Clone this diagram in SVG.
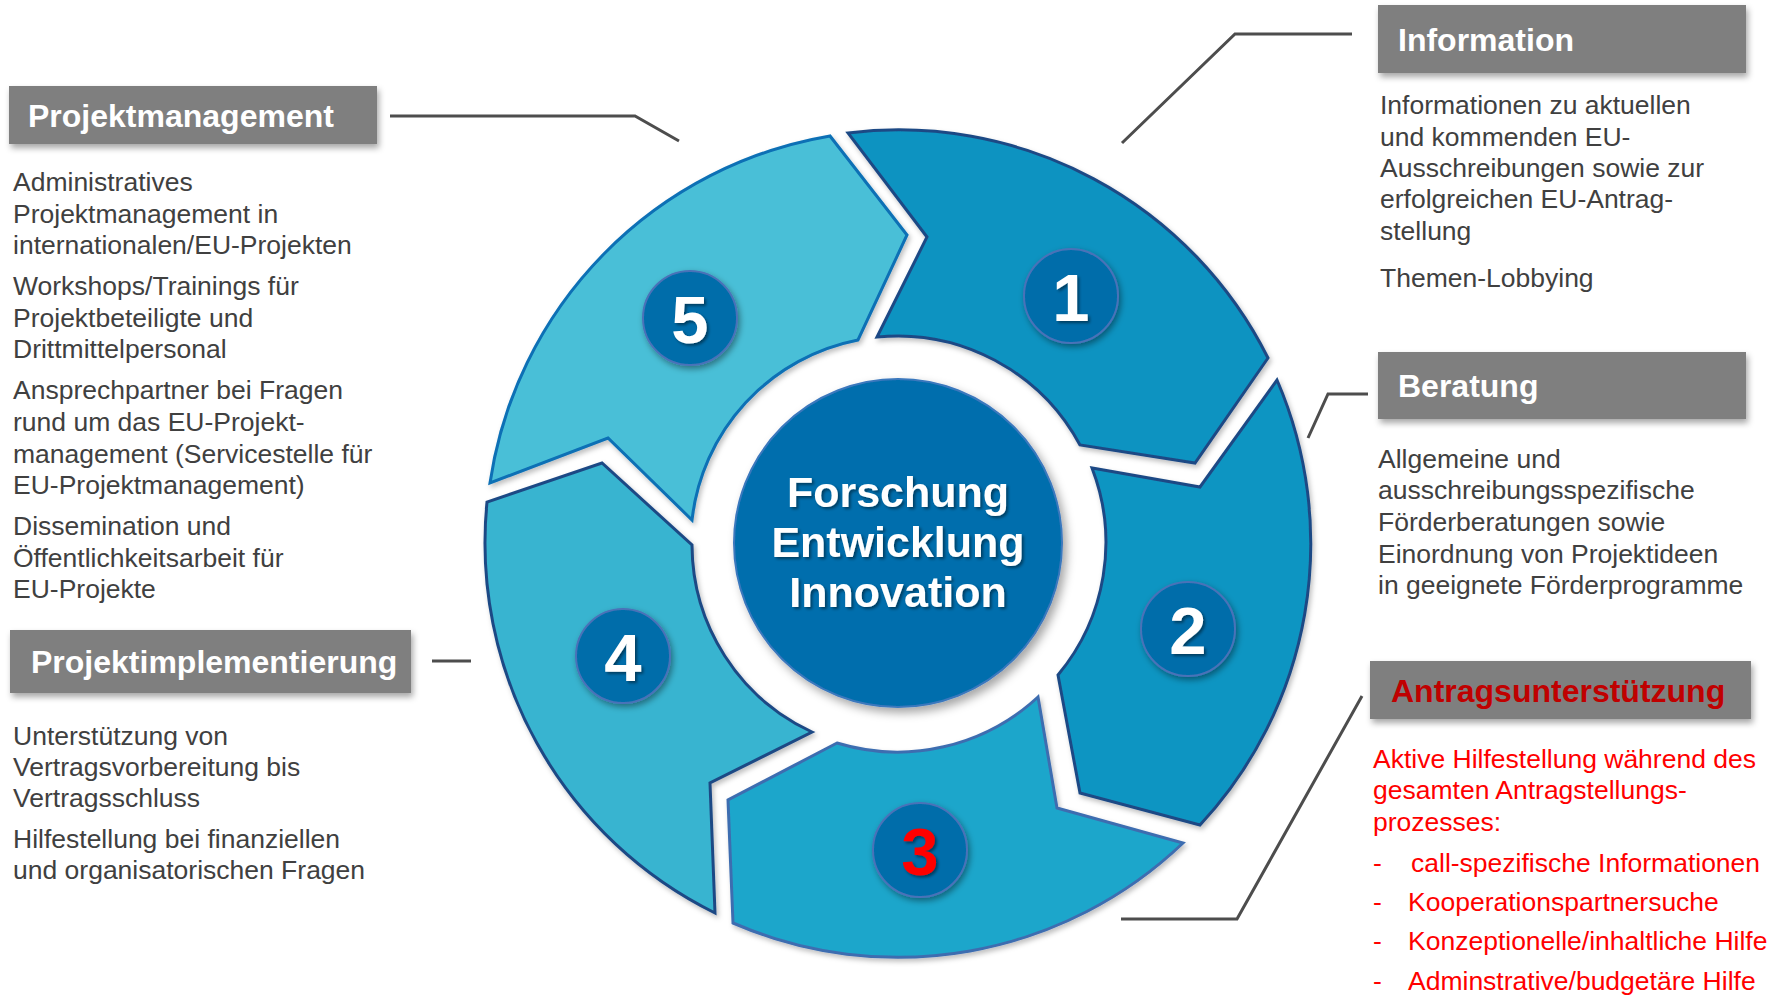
<svg xmlns="http://www.w3.org/2000/svg" width="1785" height="995" viewBox="0 0 1785 995">
<defs>
<style>
.box{fill:#7F7F7F;filter:url(#boxsh)}
.ttl{font-family:"Liberation Sans",Arial,sans-serif;font-weight:bold;font-size:32px;fill:#FFFFFF}
.body{font-family:"Liberation Sans",Arial,sans-serif;font-size:26.5px;fill:#404040}
.red{fill:#FF0000}
.conn{fill:none;stroke:#4D4D4D;stroke-width:3}
.seg{stroke-width:3;stroke-linejoin:miter;filter:url(#segsh)}
.num{fill:#006DAA;stroke:#4A72B8;stroke-width:2;filter:url(#numsh)}
.dig{font-family:"Liberation Sans",Arial,sans-serif;font-weight:bold;font-size:67px;fill:#FFFFFF;text-anchor:middle;filter:url(#txtsh)}
.ctr{font-family:"Liberation Sans",Arial,sans-serif;font-weight:bold;font-size:43px;fill:#FFFFFF;text-anchor:middle;filter:url(#txtsh)}
</style>
<filter id="boxsh" x="-5%" y="-10%" width="115%" height="140%"><feDropShadow dx="2" dy="4" stdDeviation="3" flood-color="#000" flood-opacity="0.35"/></filter>
<filter id="segsh" x="-10%" y="-10%" width="125%" height="125%"><feDropShadow dx="2" dy="3" stdDeviation="2.5" flood-color="#000" flood-opacity="0.25"/></filter>
<filter id="numsh" x="-20%" y="-20%" width="150%" height="150%"><feDropShadow dx="2" dy="3" stdDeviation="3" flood-color="#000" flood-opacity="0.4"/></filter>
<filter id="ctrsh" x="-15%" y="-15%" width="135%" height="135%"><feDropShadow dx="4" dy="5" stdDeviation="5" flood-color="#000" flood-opacity="0.35"/></filter>
<filter id="txtsh" x="-10%" y="-20%" width="125%" height="150%"><feDropShadow dx="2" dy="2" stdDeviation="1.5" flood-color="#000" flood-opacity="0.45"/></filter>
</defs>
<rect width="1785" height="995" fill="#FFFFFF"/>

<g id="connectors">
<path class="conn" d="M390,116 H635 L679,141"/>
<path class="conn" d="M432,661 H471"/>
<path class="conn" d="M1122,143 L1235,34 H1352"/>
<path class="conn" d="M1308,438 L1328,394 H1368"/>
<path class="conn" d="M1121,919 H1237 L1362,696"/>
</g>

<g id="segment-1">
<path class="seg" fill="#0D93C1" stroke="#1E4A85" d="M848,133 A413,413 0 0 1 1268,358 L1195,463 L1080,445 A207,207 0 0 0 877,337 L927,237 Z"/>
</g>
<g id="segment-2">
<path class="seg" fill="#1095C2" stroke="#1E4A85" d="M1277,380 A413,413 0 0 1 1200,825 L1080,793 L1058,675 A207,207 0 0 0 1092,468 L1200,487 Z"/>
</g>
<g id="segment-3">
<path class="seg" fill="#1DA6CB" stroke="#3E6DB0" d="M1183,843 A413,413 0 0 1 733,923 L728,800 L837,743 A207,207 0 0 0 1038,697 L1057,808 Z"/>
</g>
<g id="segment-4">
<path class="seg" fill="#38B4D0" stroke="#1E4A85" d="M715,913 A413,413 0 0 1 487,502 L602,463 L692,545 A207,207 0 0 0 812,732 L710,783 Z"/>
</g>
<g id="segment-5">
<path class="seg" fill="#4ABFD7" stroke="#0A6FB5" d="M490,483 A413,413 0 0 1 830,136 L907,235 L858,340 A207,207 0 0 0 692,520 L608,438 Z"/>
</g>

<g id="center">
<circle cx="898" cy="543" r="164" fill="#006EAD" stroke="#3B78BD" stroke-width="2" filter="url(#ctrsh)"/>
<text class="ctr" x="898" y="507">Forschung</text>
<text class="ctr" x="898" y="557">Entwicklung</text>
<text class="ctr" x="898" y="607">Innovation</text>
</g>

<g id="badge-1"><circle class="num" cx="1071" cy="296" r="47"/><text class="dig" x="1071" y="320.5">1</text></g>
<g id="badge-2"><circle class="num" cx="1188" cy="629" r="47"/><text class="dig" x="1188" y="653.5">2</text></g>
<g id="badge-3"><circle class="num" cx="920" cy="850" r="47"/><text class="dig" x="920" y="874.5" style="fill:#FF0000">3</text></g>
<g id="badge-4"><circle class="num" cx="623" cy="656" r="47"/><text class="dig" x="623" y="680.5">4</text></g>
<g id="badge-5"><circle class="num" cx="690" cy="318" r="47"/><text class="dig" x="690" y="342.5">5</text></g>

<g id="projektmanagement">
<rect class="box" x="9" y="86" width="368" height="58"/>
<text class="ttl" x="28" y="126.5">Projektmanagement</text>
<text class="body" x="13">
<tspan x="13" y="191">Administratives</tspan>
<tspan x="13" y="223">Projektmanagement in</tspan>
<tspan x="13" y="254">internationalen/EU-Projekten</tspan>
<tspan x="13" y="295">Workshops/Trainings für</tspan>
<tspan x="13" y="327">Projektbeteiligte und</tspan>
<tspan x="13" y="358">Drittmittelpersonal</tspan>
<tspan x="13" y="399">Ansprechpartner bei Fragen</tspan>
<tspan x="13" y="431">rund um das EU-Projekt-</tspan>
<tspan x="13" y="463">management (Servicestelle für</tspan>
<tspan x="13" y="494">EU-Projektmanagement)</tspan>
<tspan x="13" y="535">Dissemination und</tspan>
<tspan x="13" y="567">Öffentlichkeitsarbeit für</tspan>
<tspan x="13" y="598">EU-Projekte</tspan>
</text>
</g>

<g id="projektimplementierung">
<rect class="box" x="10" y="630" width="401" height="63"/>
<text class="ttl" x="31" y="673">Projektimplementierung</text>
<text class="body">
<tspan x="13" y="745">Unterstützung von</tspan>
<tspan x="13" y="776">Vertragsvorbereitung bis</tspan>
<tspan x="13" y="807">Vertragsschluss</tspan>
<tspan x="13" y="848">Hilfestellung bei finanziellen</tspan>
<tspan x="13" y="879">und organisatorischen Fragen</tspan>
</text>
</g>

<g id="information">
<rect class="box" x="1378" y="5" width="368" height="68"/>
<text class="ttl" x="1398" y="51">Information</text>
<text class="body">
<tspan x="1380" y="114">Informationen zu aktuellen</tspan>
<tspan x="1380" y="146">und kommenden EU-</tspan>
<tspan x="1380" y="177">Ausschreibungen sowie zur</tspan>
<tspan x="1380" y="208">erfolgreichen EU-Antrag-</tspan>
<tspan x="1380" y="240">stellung</tspan>
<tspan x="1380" y="287">Themen-Lobbying</tspan>
</text>
</g>

<g id="beratung">
<rect class="box" x="1378" y="352" width="368" height="67"/>
<text class="ttl" x="1398" y="397">Beratung</text>
<text class="body">
<tspan x="1378" y="468">Allgemeine und</tspan>
<tspan x="1378" y="499">ausschreibungsspezifische</tspan>
<tspan x="1378" y="531">Förderberatungen sowie</tspan>
<tspan x="1378" y="563">Einordnung von Projektideen</tspan>
<tspan x="1378" y="594">in geeignete Förderprogramme</tspan>
</text>
</g>

<g id="antragsunterstuetzung">
<rect class="box" x="1370" y="661" width="381" height="58"/>
<text class="ttl" x="1391" y="701.5" style="fill:#C00000">Antragsunterstützung</text>
<text class="body red">
<tspan x="1373" y="768">Aktive Hilfestellung während des</tspan>
<tspan x="1373" y="799">gesamten Antragstellungs-</tspan>
<tspan x="1373" y="831">prozesses:</tspan>
</text>
<text class="body red">
<tspan x="1373" y="872">-</tspan><tspan x="1411" y="872">call-spezifische Informationen</tspan>
<tspan x="1373" y="911">-</tspan><tspan x="1408" y="911">Kooperationspartnersuche</tspan>
<tspan x="1373" y="950">-</tspan><tspan x="1408" y="950">Konzeptionelle/inhaltliche Hilfe</tspan>
<tspan x="1373" y="990">-</tspan><tspan x="1408" y="990">Adminstrative/budgetäre Hilfe</tspan>
</text>
</g>
</svg>
